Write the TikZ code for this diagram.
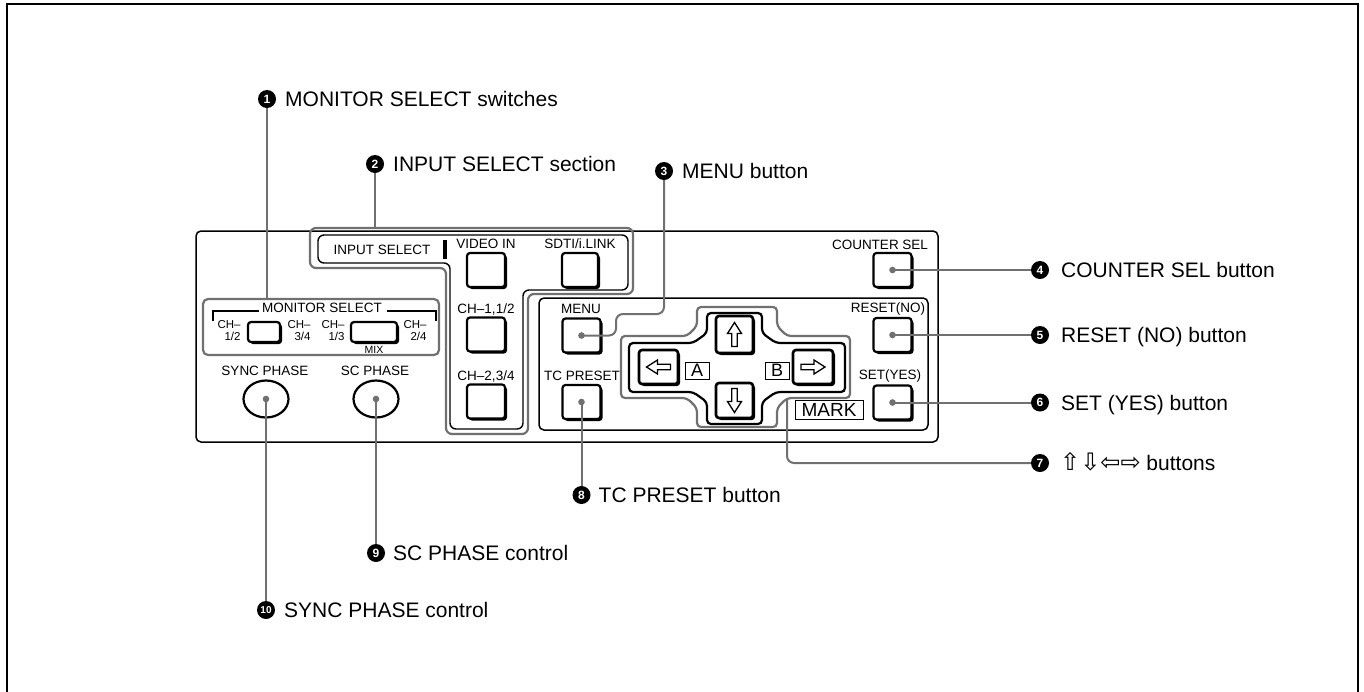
\documentclass[tikz,border=0pt]{standalone}
\usepackage{fontspec}
\setmainfont{Liberation Sans}
\newfontfamily\djv{DejaVu Sans}
\usetikzlibrary{calc,shadows,shapes.geometric}
\definecolor{ldr}{HTML}{707070}
\begin{document}
\begin{tikzpicture}[x=1pt,y=-1pt,
  leader/.style={draw=ldr, line width=2pt},
  num/.style={circle, fill=black, text=white, inner sep=0pt, minimum size=18pt, font=\bfseries\fontsize{12}{12}\selectfont},
  lbl/.style={anchor=base west, inner sep=0pt, font=\fontsize{21}{24}\selectfont},
  ptxt/.style={inner sep=0pt, font=\fontsize{13.5}{15}\selectfont},
  stxt/.style={inner sep=0pt, font=\fontsize{11.5}{12}\selectfont, align=right},
  btn/.style={draw=black, line width=2.2pt, rounded corners=3pt, fill=white, minimum width=38pt, minimum height=34pt, inner sep=0pt,
    drop shadow={shadow xshift=2pt, shadow yshift=-2pt, opacity=1, fill=black}},
  knob/.style={draw=black, line width=2.2pt, ellipse, minimum width=45pt, minimum height=37pt, inner sep=0pt},
  dotc/.style={fill=ldr},
  hollow/.pic={\draw[line width=1.3pt, line join=miter, fill=white] (-12,-2.8) -- (1,-2.8) -- (1,-7) -- (12,0) -- (1,7) -- (1,2.8) -- (-12,2.8) -- cycle;},
]
\useasboundingbox (0,0) rectangle (1364,691);
\clip (0,0) rectangle (1364,691);
% outer frame
\draw[line width=2pt] (7,700) -- (7,4) -- (1358,4) -- (1358,700);

% panel
\draw[line width=1.5pt, rounded corners=5pt] (196,231) rectangle (938,442);
\draw[line width=1.5pt, rounded corners=5pt] (539,298) rectangle (928,430);

% MONITOR SELECT
\node[draw=ldr, line width=2.2pt, rounded corners=5pt, minimum width=236pt, minimum height=56pt, inner sep=0pt] (msel) at (321,327) {};
\node[ptxt] (tmon) at (322,308) {MONITOR SELECT};
\draw[line width=2.6pt] (213,321) -- (213,311) -- (259,311);
\draw[line width=2.6pt] (387,311) -- (436,311) -- (436,321);
\node[stxt] (ch12) at (229,331) {CH–\\1/2};
\node[stxt] (ch34) at (299,331) {CH–\\3/4};
\node[stxt] (ch13) at (333,331) {CH–\\1/3};
\node[stxt] (ch24) at (415,331) {CH–\\2/4};
\node[btn, minimum width=32pt, minimum height=20pt] (mb1) at (264,332) {};
\node[btn, minimum width=46pt, minimum height=20pt] (mb2) at (374,332) {};
\node[stxt, font=\fontsize{10.5}{11}\selectfont] (mix) at (374,350) {MIX};

% knobs
\node[ptxt] (tsync) at (265,371) {SYNC PHASE};
\node[ptxt] (tsc) at (375,371) {SC PHASE};
\node[knob] (sync) at (266,399) {};
\node[knob] (sc) at (376,399) {};

% INPUT SELECT outlines
\draw[draw=ldr, line width=2.2pt, rounded corners=6pt] (470,228) -- (633,228) -- (633,294) -- (528,294) -- (528,434) -- (446,434) -- (446,268) -- (310,268) -- (310,228) -- cycle;
\draw[line width=1.4pt, rounded corners=6pt] (470,235) -- (628,235) -- (628,290) -- (523,290) -- (523,429) -- (450,429) -- (450,263) -- (318,263) -- (318,235) -- cycle;
\node[ptxt] (tinsel) at (382,250) {INPUT SELECT};
\fill (443,240) rectangle (447,259);
\node[ptxt] (tvid) at (486,244) {VIDEO IN};
\node[ptxt] (tsdti) at (580,244) {SDTI/i.LINK};
\node[ptxt] (tch1) at (486,309) {CH–1,1/2};
\node[ptxt] (tch2) at (486,376) {CH–2,3/4};
\node[btn] (vid) at (486,270) {};
\node[btn, minimum width=36pt] (sdti) at (580,270) {};
\node[btn] (ch1) at (486,334.5) {};
\node[btn] (ch2) at (486,401.5) {};

% menu section
\node[ptxt] (tmenu) at (581,309) {MENU};
\node[ptxt] (ttcp) at (582,376) {TC PRESET};
\node[btn] (menu) at (581.5,335.5) {};
\node[btn] (tcp) at (581.5,402) {};
\node[ptxt] (tcs) at (880,245) {COUNTER SEL};
\node[ptxt] (trst) at (888,309) {RESET(NO)};
\node[ptxt] (tset) at (890,376) {SET(YES)};
\node[btn] (cs) at (892.5,270) {};
\node[btn] (rst) at (892.5,335) {};
\node[btn] (set) at (892.5,402.5) {};

% d-pad outlines
\draw[draw=ldr, line width=2.2pt, rounded corners=4pt] (737,307) -- (777,307) -- (777,326) -- (787,336) -- (850,336) -- (850,398) -- (787,398) -- (777,408) -- (777,427) -- (697,427) -- (697,408) -- (687,398) -- (621,398) -- (621,336) -- (687,336) -- (697,326) -- (697,307) -- cycle;
\draw[line width=2.2pt, rounded corners=4pt] (734,313) -- (762,313) -- (762,333) -- (776,343) -- (845,343) -- (845,392) -- (776,392) -- (762,402) -- (762,424) -- (707,424) -- (707,402) -- (693,392) -- (629,392) -- (629,343) -- (693,343) -- (707,333) -- (707,313) -- cycle;
\node[btn, line width=2.6pt, minimum width=37pt, minimum height=37pt] (up) at (734.5,334.5) {};
\node[btn, line width=2.6pt, minimum width=37pt, minimum height=35pt] (down) at (734.5,400.5) {};
\node[btn, line width=2.6pt, minimum width=39pt, minimum height=34pt] (left) at (658.5,367) {};
\node[btn, line width=2.6pt, minimum width=40pt, minimum height=34pt] (right) at (813,367) {};
\pic[rotate=90] at (734.5,334.5) {hollow};
\pic[rotate=-90] at (734.5,400.5) {hollow};
\pic[rotate=180] at (658.5,367) {hollow};
\pic at (813,367) {hollow};
\node[draw, line width=1pt, minimum width=24pt, minimum height=17pt, inner sep=0pt, font=\fontsize{18}{18}\selectfont] (boxa) at (697,370.5) {A};
\node[draw, line width=1pt, minimum width=24pt, minimum height=17pt, inner sep=0pt, font=\fontsize{18}{18}\selectfont] (boxb) at (777,370.5) {B};
\node[draw, line width=1pt, minimum width=68pt, minimum height=19pt, inner sep=0pt, font=\fontsize{19}{19}\selectfont] (mark) at (829,410) {MARK};

% callout numbers
\node[num] (n1) at (267,99) {1};
\node[num] (n2) at (375,164) {2};
\node[num] (n3) at (664,171) {3};
\node[num] (n4) at (1040,270) {4};
\node[num] (n5) at (1040,335) {5};
\node[num] (n6) at (1040,402.5) {6};
\node[num] (n7) at (1040,463) {7};
\node[num] (n8) at (581.5,495) {8};
\node[num] (n9) at (376,553) {9};
\node[num, font=\bfseries\fontsize{10}{10}\selectfont] (n10) at (266,610) {10};

\node[lbl] (t1) at ($(n1)+(18,7.5)$) {MONITOR SELECT switches};
\node[lbl] (t2) at ($(n2)+(18,7.5)$) {INPUT SELECT section};
\node[lbl] (t3) at ($(n3)+(18,7.5)$) {MENU button};
\node[lbl] (t4) at ($(n4)+(21,7.5)$) {COUNTER SEL button};
\node[lbl] (t5) at ($(n5)+(21,7.5)$) {RESET (NO) button};
\node[lbl] (t6) at ($(n6)+(21,7.5)$) {SET (YES) button};
\node[lbl] (t7) at ($(n7)+(20,7.5)$) {{\djv\fontsize{24}{24}\selectfont ⇧⇩⇦⇨} buttons};
\node[lbl] (t8) at ($(n8)+(17,7.5)$) {TC PRESET button};
\node[lbl] (t9) at ($(n9)+(17,7.5)$) {SC PHASE control};
\node[lbl] (t10) at ($(n10)+(18,7.5)$) {SYNC PHASE control};

% leaders
\coordinate (is2) at (375,228);
\coordinate (m3) at (616,314);
\coordinate (d7) at (787,398);
\draw[leader] (n1) -- (n1 |- msel.north);
\draw[leader] (n2) -- (n2 |- is2);
\draw[leader, rounded corners=7pt] (menu.center) -| (m3) -| (n3);
\draw[leader] (cs.center) -- (n4);
\draw[leader] (rst.center) -- (n5);
\draw[leader] (set.center) -- (n6);
\draw[leader, rounded corners=7pt] (d7) |- (n7);
\draw[leader] (tcp.center) -- (n8);
\draw[leader] (sc.center) -- (n9);
\draw[leader] (sync.center) -- (n10);
\foreach \b in {menu,tcp,cs,rst,set,sc,sync} \fill[dotc] (\b.center) circle (3.3);
\end{tikzpicture}
\end{document}
